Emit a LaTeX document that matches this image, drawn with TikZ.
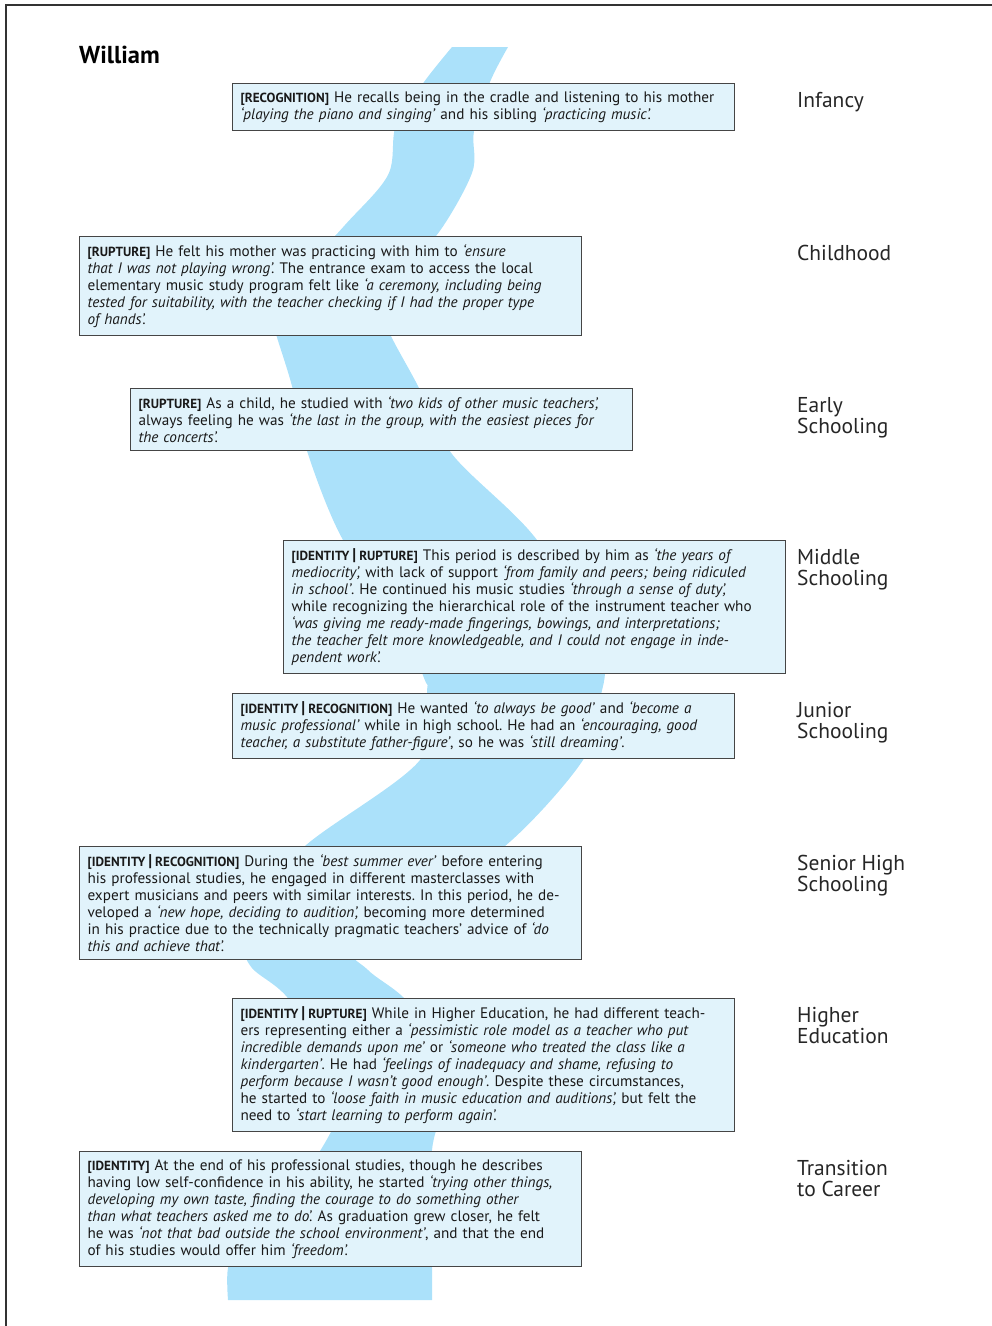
\documentclass[tikz,border=0pt]{standalone}
\usepackage{fontspec}
\setmainfont{PT Sans}
\usepackage{xcolor}
\usepackage{tikz}
\usetikzlibrary{positioning}

\definecolor{river}{HTML}{ABE1FA}
\definecolor{boxfill}{HTML}{E1F3FB}
\definecolor{boxline}{HTML}{454545}

\newcommand{\tg}[1]{{\fontsize{13.2}{13}\selectfont\bfseries[#1]}}
\newcommand{\tsep}{\hspace{3pt}{\fontsize{17}{13}\selectfont\bfseries|}\hspace{3pt}}

\tikzset{
  story/.style={draw=boxline, line width=1.2pt, fill=boxfill, anchor=north west,
    text width=486pt, inner xsep=8pt, inner ysep=8pt, align=left,
    font=\fontsize{15.2}{17}\selectfont, text=black!90},
  stage/.style={anchor=north west, inner sep=0pt, align=left, text=black!85,
    font=\fontsize{21.5}{21}\selectfont},
}

\begin{document}
\frenchspacing
\begin{tikzpicture}[x=1pt,y=-1pt]
\useasboundingbox (0,0) rectangle (992,1326);
\draw[line width=1.5pt, black!80] (6,1326) -- (6,5) -- (992,5);

% the river
\fill[river] plot[smooth, tension=0.55] coordinates {(452,47) (424,82) (396,125) (388,175) (345,225) (295,280) (272,315) (276,334) (292,386) (308,454) (343,540) (395,610) (424,678) (427,692) (420,760) (305,846) (258,905) (245,945) (252,968) (287,997) (330,1060) (340,1110) (300,1180) (240,1240) (228,1268) (228,1300)}
 -- plot[smooth, tension=0.55] coordinates {(432,1300) (432,1268) (432,1150) (450,1090) (440,1040) (403,997) (368,970) (352,945) (420,895) (505,846) (583,760) (600,700) (600,650) (537,540) (452,454) (418,386) (390,334) (378,300) (400,262) (436,236) (472,173) (474,131) (490,82) (508,47)} -- cycle;

\node[anchor=base west, inner sep=0pt, font=\fontsize{24.5}{26}\selectfont\bfseries] (name) at (79,63) {William};

\node[story] (infancy) at (232,83) {\tg{RECOGNITION} He recalls being in the cradle and listening to his mother\\
\emph{‘playing the piano and singing’} and his sibling \emph{‘practicing music’.}};

\node[story] (child) at (79,236) {\tg{RUPTURE} He felt his mother was practicing with him to \emph{‘ensure}\\
\emph{that I was not playing wrong’.} The entrance exam to access the local\\
elementary music study program felt like \emph{‘a ceremony, including being}\\
\emph{tested for suitability, with the teacher checking if I had the proper type}\\
\emph{of hands’.}};

\node[story] (early) at (130,388) {\tg{RUPTURE} As a child, he studied with \emph{‘two kids of other music teachers’,}\\
always feeling he was \emph{‘the last in the group, with the easiest pieces for}\\
\emph{the concerts’.}};

\node[story] (middle) at (283,540) {\tg{IDENTITY\tsep RUPTURE} This period is described by him as \emph{‘the years of}\\
\emph{mediocrity’,} with lack of support \emph{‘from family and peers; being ridiculed}\\
\emph{in school’}. He continued his music studies \emph{‘through a sense of duty’,}\\
while recognizing the hierarchical role of the instrument teacher who\\
\emph{‘was giving me ready-made fingerings, bowings, and interpretations;}\\
\emph{the teacher felt more knowledgeable, and I could not engage in inde-}\\
\emph{pendent work’.}};

\node[story] (junior) at (232,693) {\tg{IDENTITY\tsep RECOGNITION} He wanted \emph{‘to always be good’} and \emph{‘become a}\\
\emph{music professional’} while in high school. He had an \emph{‘encouraging, good}\\
\emph{teacher, a substitute father-figure’}, so he was \emph{‘still dreaming’}.};

\node[story] (senior) at (79,846) {\tg{IDENTITY\tsep RECOGNITION} During the \emph{‘best summer ever’} before entering\\
his professional studies, he engaged in different masterclasses with\\
expert musicians and peers with similar interests. In this period, he de-\\
veloped a \emph{‘new hope, deciding to audition’,} becoming more determined\\
in his practice due to the technically pragmatic teachers’ advice of \emph{‘do}\\
\emph{this and achieve that’.}};

\node[story] (higher) at (232,998) {\tg{IDENTITY\tsep RUPTURE} While in Higher Education, he had different teach-\\
ers representing either a \emph{‘pessimistic role model as a teacher who put}\\
\emph{incredible demands upon me’} or \emph{‘someone who treated the class like a}\\
\emph{kindergarten’}. He had \emph{‘feelings of inadequacy and shame, refusing to}\\
\emph{perform because I wasn’t good enough’}. Despite these circumstances,\\
he started to \emph{‘loose faith in music education and auditions’,} but felt the\\
need to \emph{‘start learning to perform again’.}};

\node[story] (transition) at (79,1151) {\tg{IDENTITY} At the end of his professional studies, though he describes\\
having low self-confidence in his ability, he started \emph{‘trying other things,}\\
\emph{developing my own taste, finding the courage to do something other}\\
\emph{than what teachers asked me to do’.} As graduation grew closer, he felt\\
he was \emph{‘not that bad outside the school environment’}, and that the end\\
of his studies would offer him \emph{‘freedom’.}};

% stages
\node[stage] (s1) at (797,92) {Infancy};
\node[stage] (s2) at (797,245) {Childhood};
\node[stage] (s3) at (797,397) {Early\\Schooling};
\node[stage] (s4) at (797,549) {Middle\\Schooling};
\node[stage] (s5) at (797,702) {Junior\\Schooling};
\node[stage] (s6) at (797,855) {Senior High\\Schooling};
\node[stage] (s7) at (797,1007) {Higher\\Education};
\node[stage] (s8) at (797,1160) {Transition\\to Career};
\end{tikzpicture}
\end{document}
